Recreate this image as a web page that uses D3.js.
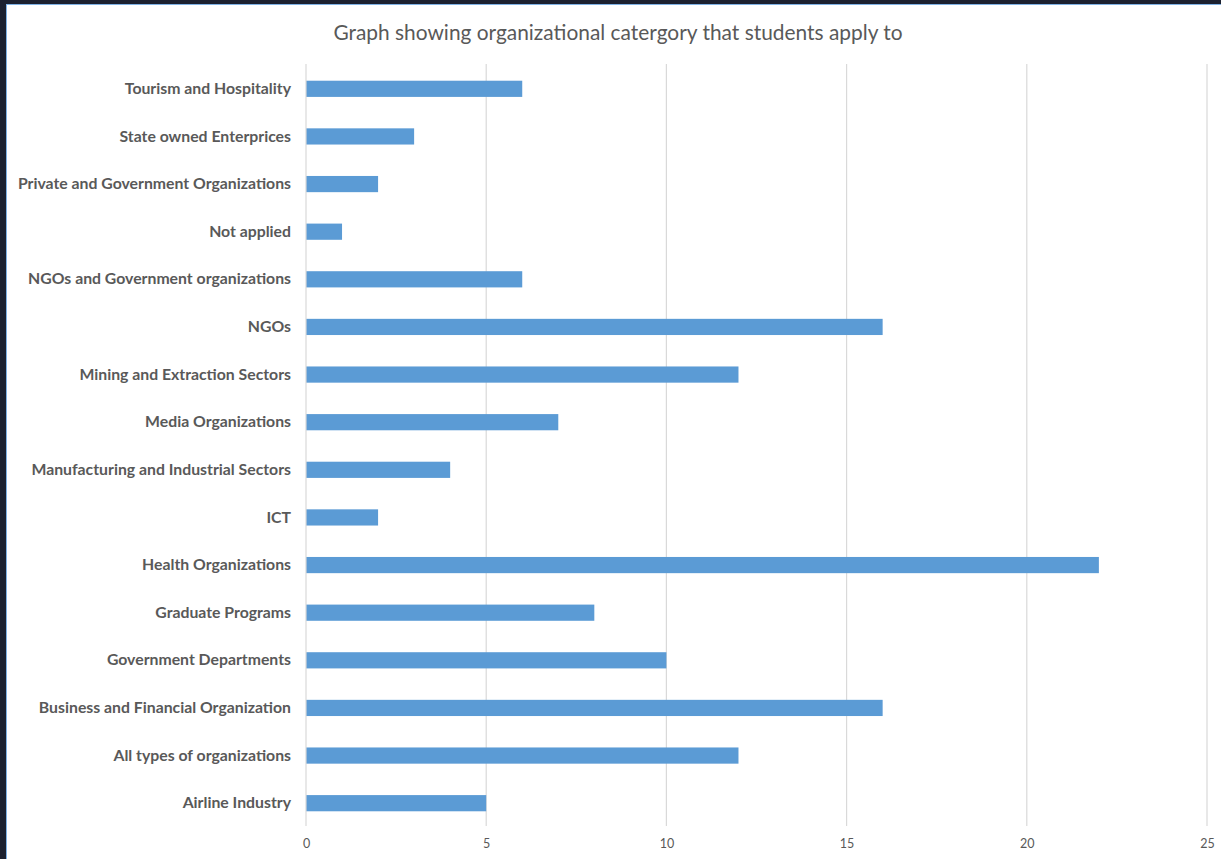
<!DOCTYPE html>
<html><head><meta charset="utf-8">
<script src="https://cdn.jsdelivr.net/npm/d3@7"></script>
<style>
html,body{margin:0;padding:0;background:#1c2130;}
svg{display:block;}
</style></head>
<body>
<script>
const categories = [
  "Tourism and Hospitality",
  "State owned Enterprices",
  "Private and Government Organizations",
  "Not applied",
  "NGOs and Government organizations",
  "NGOs",
  "Mining and Extraction Sectors",
  "Media Organizations",
  "Manufacturing and Industrial Sectors",
  "ICT",
  "Health Organizations",
  "Graduate Programs",
  "Government Departments",
  "Business and Financial Organization",
  "All types of organizations",
  "Airline Industry"
];
const values = [6, 3, 2, 1, 6, 16, 12, 7, 4, 2, 22, 8, 10, 16, 12, 5];
const xTicks = [0, 5, 10, 15, 20, 25];
const title = "Graph showing organizational catergory that students apply to";

(function () {
const W = 1221, H = 859;
const svg = d3.select("body").append("svg").attr("width", W).attr("height", H);

// frame
svg.append("rect").attr("x",0).attr("y",0).attr("width",W).attr("height",H).attr("fill","#1c2130");
svg.append("rect").attr("x",6).attr("y",4).attr("width",W-6).attr("height",H-4).attr("fill","#7fb2e5");
svg.append("rect").attr("x",7).attr("y",5).attr("width",W-7).attr("height",H-5).attr("fill","#ffffff");

const mLeft = 306, mRight = 1207, mTop = 65, mBottom = 827;
const x = d3.scaleLinear().domain([0, 25]).range([mLeft, mRight]);
const y = d3.scaleBand().domain(categories).range([mTop, mBottom]).paddingInner(0.66).paddingOuter(0.33);

// gridlines
svg.append("g").selectAll("line").data(xTicks.filter(t => t > 0)).join("line")
  .attr("x1", d => x(d)).attr("x2", d => x(d))
  .attr("y1", mTop - 1).attr("y2", mBottom - 1)
  .attr("stroke", "#d9d9d9").attr("stroke-width", 1.2);

// bars
svg.append("g").selectAll("rect").data(values).join("rect")
  .attr("x", x(0))
  .attr("y", (d, i) => y(categories[i]))
  .attr("width", d => x(d) - x(0))
  .attr("height", y.bandwidth())
  .attr("fill", "#5b9bd5");

// vertical axis line
svg.append("line").attr("x1", x(0)).attr("x2", x(0)).attr("y1", mTop - 1).attr("y2", mBottom - 1)
  .attr("stroke", "#d9d9d9").attr("stroke-width", 1.2);

// category labels
const yAxis = d3.axisLeft(y).tickSize(0).tickPadding(15);
const gy = svg.append("g").attr("transform", `translate(${x(0)},0)`).call(yAxis);
gy.select(".domain").remove();
gy.selectAll("text").attr("font-family", "Lato, 'Open Sans', sans-serif")
  .attr("font-size", 15.8).attr("font-weight", "bold").attr("fill", "#595959");

// x tick labels
const xAxis = d3.axisBottom(x).tickValues(xTicks).tickSize(0).tickPadding(12);
const gx = svg.append("g").attr("transform", `translate(0,${mBottom})`).call(xAxis);
gx.select(".domain").remove();
gx.selectAll("text").attr("font-family", "Lato, 'Open Sans', sans-serif")
  .attr("font-size", 12.5).attr("fill", "#595959");

// title
svg.append("text").attr("x", 618).attr("y", 40).attr("text-anchor", "middle")
  .attr("font-family", "Lato, 'Open Sans', sans-serif").attr("font-size", 20.9)
  .attr("fill", "#595959").text(title);
})();
</script>
</body></html>
